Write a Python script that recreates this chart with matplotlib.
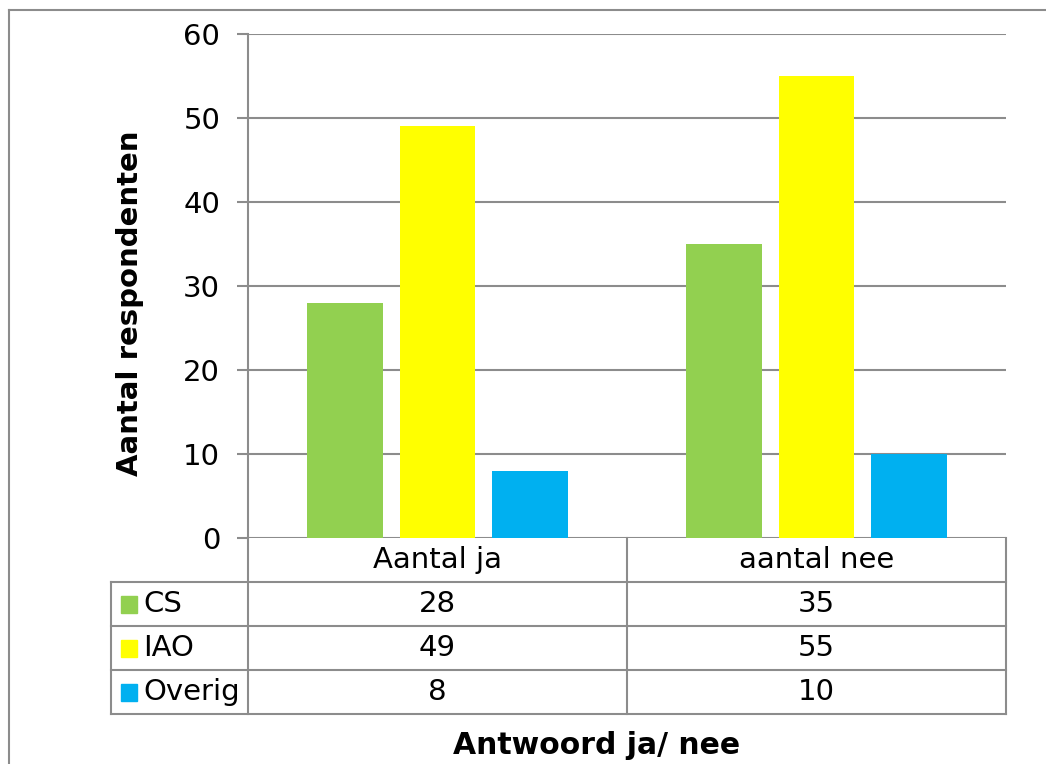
import matplotlib
matplotlib.use("Agg")
import matplotlib.pyplot as plt
from matplotlib.lines import Line2D
from matplotlib.patches import Rectangle
import numpy as np

categories = ["Aantal ja", "aantal nee"]
series = ["CS", "IAO", "Overig"]
cs = [28, 35]
iao = [49, 55]
overig = [8, 10]
colors = ["#92D050", "#FFFF00", "#00B0F0"]

W, H = 1046, 764
fs = 21
grid_c = "#8c8c8c"

fig = plt.figure(figsize=(W / 100, H / 100), dpi=100)

def fx(px):
    return px / W

def fy(py):
    return 1 - py / H

# outer chart border (clipped on right and bottom like the original)
fig.add_artist(Line2D([fx(9), 1.0], [fy(10), fy(10)], color=grid_c, lw=1.5))
fig.add_artist(Line2D([fx(9), fx(9)], [fy(10), 0.0], color=grid_c, lw=1.5))

left, right, top, bottom = 248, 1006, 34, 538
ax = fig.add_axes([fx(left), fy(bottom), fx(right - left), (bottom - top) / H])

x = np.arange(len(categories))
bw = 0.2
step = 0.245
for i, vals in enumerate([cs, iao, overig]):
    ax.bar(x + (i - 1) * step, vals, width=bw, color=colors[i], zorder=3)

ax.set_xlim(-0.5, len(categories) - 0.5)
ax.set_ylim(0, 60)
ax.set_yticks(range(0, 61, 10))
ax.yaxis.grid(True, color=grid_c, lw=1.5, zorder=0)
ax.tick_params(axis="y", length=8, width=1.5, color=grid_c, labelsize=fs, pad=12)
ax.set_xticks([])
for s in ["top", "right", "bottom"]:
    ax.spines[s].set_visible(False)
ax.spines["left"].set_color(grid_c)
ax.spines["left"].set_linewidth(1.5)

fig.text(fx(130), fy(303), "Aantal respondenten", rotation=90, ha="center", va="center",
         fontsize=fs, fontweight="bold")

# data table below the plot
tleft = 111
row_h = 44
unit = (right - left) / len(categories)
tab = fig.add_axes([fx(tleft), fy(bottom + 4 * row_h), fx(right - tleft), 4 * row_h / H])
lab_w = (left - tleft) / unit
tab.set_xlim(-0.5 - lab_w, len(categories) - 0.5)
tab.set_ylim(4, 0)
tab.axis("off")

lc = dict(color=grid_c, lw=1.5, clip_on=False)
for k in range(len(categories) + 1):
    xv = -0.5 + k
    tab.plot([xv, xv], [0, 4], **lc)
for r in range(1, 5):
    tab.plot([-0.5 - lab_w, len(categories) - 0.5], [r, r], **lc)
tab.plot([-0.5 - lab_w, -0.5 - lab_w], [1, 4], **lc)

for j, c in enumerate(categories):
    tab.text(j, 0.5, c, ha="center", va="center", fontsize=fs)

for i, (name, vals) in enumerate(zip(series, [cs, iao, overig])):
    yc = 1.5 + i
    kx = -0.5 - lab_w + 10 / unit
    tab.add_patch(Rectangle((kx, yc - 0.18), 16 / unit, 0.38, color=colors[i], clip_on=False))
    tab.text(kx + 22 / unit, yc, name, ha="left", va="center", fontsize=fs)
    for j, v in enumerate(vals):
        tab.text(j, yc, str(v), ha="center", va="center", fontsize=fs)

fig.text(fx(597), fy(745), "Antwoord ja/ nee", ha="center", va="center",
         fontsize=fs + 0.5, fontweight="bold")

fig.savefig("out.png", dpi=100)
